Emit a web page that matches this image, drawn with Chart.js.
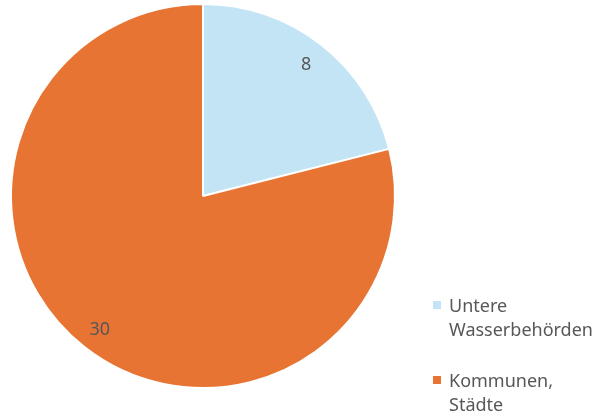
<!DOCTYPE html>
<html>
<head>
<meta charset="utf-8">
<script src="https://cdn.jsdelivr.net/npm/chart.js@4/dist/chart.umd.min.js"></script>
<style>
  html, body { margin: 0; padding: 0; background: #fff; }
  #wrap { width: 601px; height: 419px; position: relative; }
</style>
</head>
<body>
<div id="wrap"><canvas id="pie"></canvas></div>
<script>
// Chart data
const categories = [['Untere', 'Wasserbehörden'], ['Kommunen,', 'Städte']];
const counts = [8, 30];
const sliceColors = ['#c3e4f4', '#e87433'];

const textColor = '#575757';
const fontFamily = '"Noto Sans", "Liberation Sans", sans-serif';

// Value labels inside the slices
const valueLabels = {
  id: 'valueLabels',
  afterDatasetsDraw(chart) {
    const ctx = chart.ctx;
    const meta = chart.getDatasetMeta(0);
    ctx.save();
    ctx.font = '18px ' + fontFamily;
    ctx.fillStyle = textColor;
    ctx.textAlign = 'center';
    ctx.textBaseline = 'alphabetic';
    meta.data.forEach((arc, i) => {
      const mid = (arc.startAngle + arc.endAngle) / 2;
      const r = arc.outerRadius * 0.875;
      ctx.fillText(String(counts[i]), arc.x + Math.cos(mid) * r, arc.y + Math.sin(mid) * r + 6.5);
    });
    ctx.restore();
  }
};

// Legend with wrapped labels, bottom right
const sideLegend = {
  id: 'sideLegend',
  afterDraw(chart) {
    const ctx = chart.ctx;
    ctx.save();
    ctx.font = '18px ' + fontFamily;
    ctx.textBaseline = 'alphabetic';
    ctx.textAlign = 'left';
    let y = 312;
    categories.forEach((lines, i) => {
      ctx.fillStyle = sliceColors[i];
      ctx.fillRect(433, y - 11, 8, 8);
      ctx.fillStyle = textColor;
      lines.forEach((line, j) => {
        ctx.fillText(line, 449, y + j * 24);
      });
      y += 75;
    });
    ctx.restore();
  }
};

new Chart(document.getElementById('pie'), {
  type: 'pie',
  data: {
    labels: categories.map(l => l.join(' ')),
    datasets: [{
      data: counts,
      backgroundColor: sliceColors,
      borderColor: '#ffffff',
      borderWidth: 2
    }]
  },
  options: {
    responsive: true,
    maintainAspectRatio: false,
    animation: false,
    layout: { padding: { left: 10, top: 3, right: 205, bottom: 30 } },
    plugins: {
      legend: { display: false },
      tooltip: { enabled: false }
    }
  },
  plugins: [valueLabels, sideLegend]
});
</script>
</body>
</html>
